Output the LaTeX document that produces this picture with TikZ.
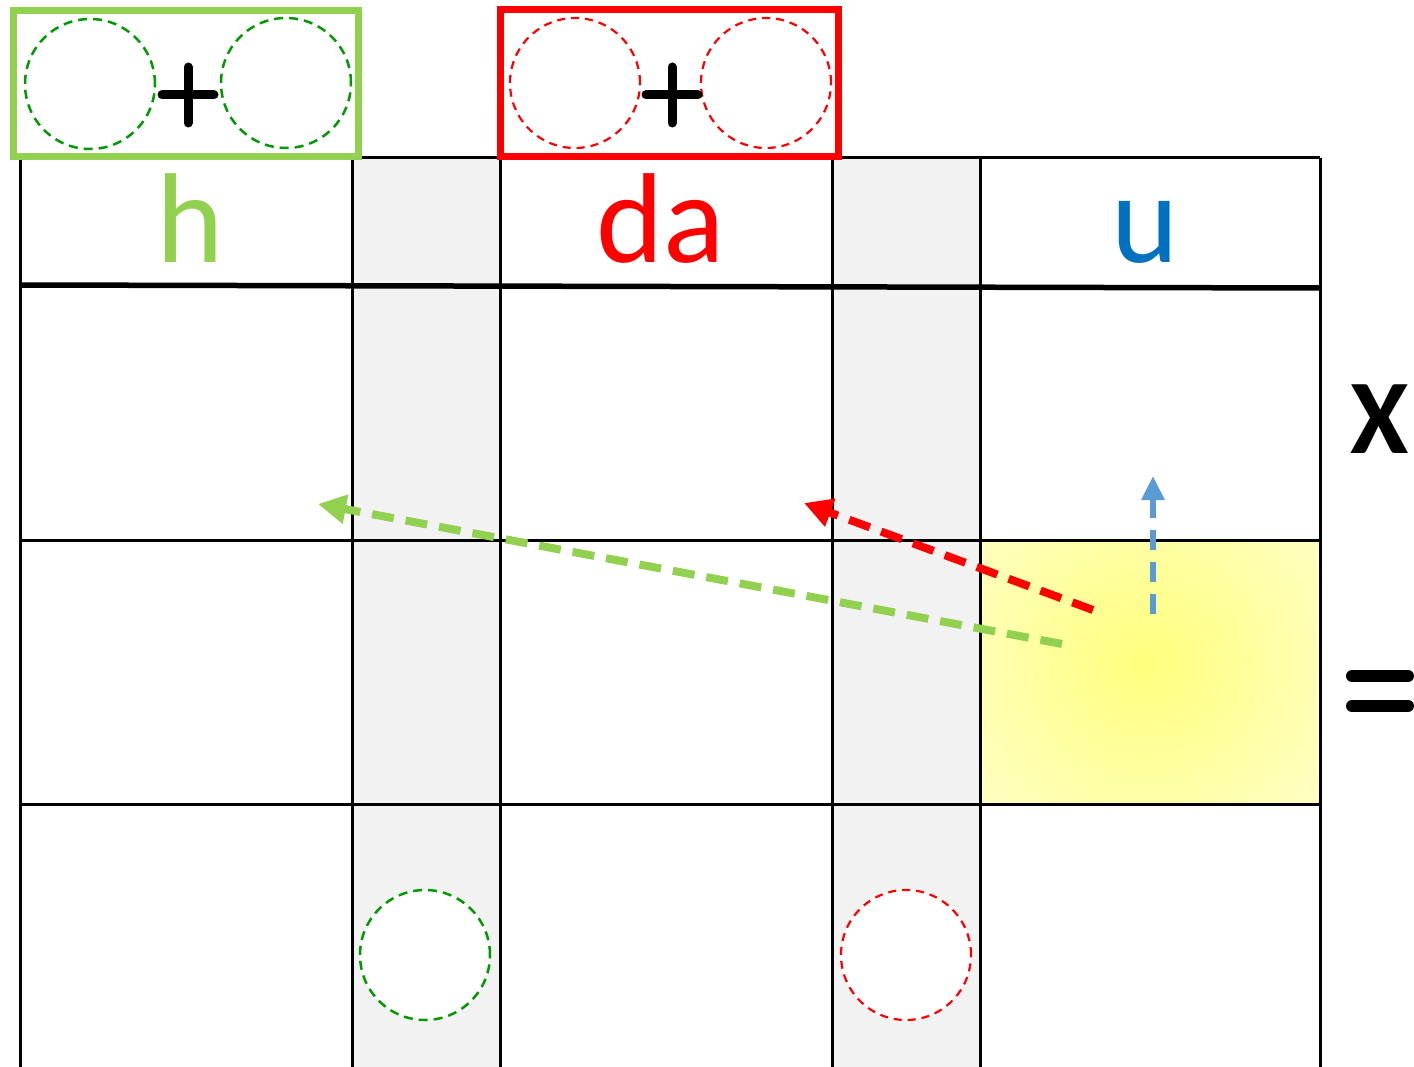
\documentclass[tikz,border=0pt]{standalone}
\usepackage{fontspec}
\setmainfont{Carlito}
\usetikzlibrary{arrows.meta}
\definecolor{lgreen}{RGB}{146,208,80}
\definecolor{dgreen}{RGB}{0,153,0}
\definecolor{ured}{RGB}{255,0,0}
\definecolor{ublue}{RGB}{0,112,192}
\definecolor{ablue}{RGB}{91,155,213}
\definecolor{colgray}{RGB}{242,242,242}
\definecolor{ycenter}{RGB}{255,255,125}
\definecolor{yedge}{RGB}{255,255,215}
\tikzset{
  grid line/.style={line width=3pt, black},
  head line/.style={line width=5.5pt, black},
  gcirc/.style={circle, draw=dgreen, line width=2.5pt, dash pattern=on 9pt off 6pt, fill=white, minimum size=130pt, inner sep=0pt},
  rcirc/.style={circle, draw=ured, line width=2.2pt, dash pattern=on 8pt off 6pt, fill=white, minimum size=130pt, inner sep=0pt},
  gbox/.style={draw=lgreen, line width=7pt},
  rbox/.style={draw=ured, line width=7pt},
  plusbar/.style={line width=9pt, line cap=round, black},
  label/.style={inner sep=0pt, anchor=base, font=\fontsize{128}{130}\selectfont},
  garrow/.style={draw=lgreen, line width=8pt, dash pattern=on 22pt off 12pt, -{Triangle[length=28pt,width=28pt]}},
  rarrow/.style={draw=ured, line width=8pt, dash pattern=on 22pt off 12pt, -{Triangle[length=28pt,width=28pt]}},
  barrow/.style={draw=ablue, line width=6pt, dash pattern=on 20pt off 12pt, -{Triangle[length=24pt,width=22pt]}},
}
\begin{document}
\begin{tikzpicture}[x=1pt,y=-1pt]
\useasboundingbox (0,0) rectangle (1414,1067);
\fill[white] (0,0) rectangle (1414,1067);
% gray columns
\fill[colgray] (352,158) rectangle (500,1067);
\fill[colgray] (832,158) rectangle (980,1067);
% highlighted cell
\begin{scope}
  \clip (980,540) rectangle (1320,804);
  \fill[yedge] (980,540) rectangle (1320,804);
  \shade[inner color=ycenter, outer color=yedge] (1146,662) circle (280);
\end{scope}
% grid
\draw[grid line] (20,158) -- (1320,158);
\draw[head line] (20,285) -- (1320,288);
\draw[grid line] (20,540) -- (1320,540);
\draw[grid line] (20,804) -- (1320,804);
\foreach \x in {20,352,500,832,980,1320}
  \draw[grid line] (\x,158) -- (\x,1067);
% top boxes
\draw[gbox] (13,11) rectangle (358,157);
\draw[rbox] (500,10) rectangle (838,157);
\node[gcirc] (g1) at (90,84) {};
\node[gcirc] (g2) at (286,83) {};
\node[rcirc] (r1) at (575,83) {};
\node[rcirc] (r2) at (766,83) {};
\draw[plusbar] (162,95) -- (214,95);
\draw[plusbar] (188,67) -- (188,123);
\draw[plusbar] (646,95) -- (698,95);
\draw[plusbar] (672,67) -- (672,123);
% bottom circles
\node[gcirc] (g3) at (425,955) {};
\node[rcirc] (r3) at (906,955) {};
% labels
\node[label, text=lgreen] (h) at (190,263) {h};
\node[label, text=ured] (da) at (661,263) {da};
\node[label, text=ublue] (u) at (1145,263) {u};
\node[inner sep=0pt, anchor=base, font=\fontsize{106}{110}\selectfont\bfseries] (X) at (1380,453) {X};
% equal sign
\draw[plusbar, line width=12pt] (1352,676) -- (1408,676);
\draw[plusbar, line width=12pt] (1352,706) -- (1408,706);
% arrows
\coordinate (gs) at (1062,644);
\coordinate (ge) at (318,504);
\coordinate (rs) at (1093,610);
\coordinate (re) at (804,503);
\coordinate (bs) at (1153,614);
\coordinate (be) at (1153,476);
\draw[garrow] (gs) -- (ge);
\draw[rarrow] (rs) -- (re);
\draw[barrow] (bs) -- (be);
\end{tikzpicture}
\end{document}
